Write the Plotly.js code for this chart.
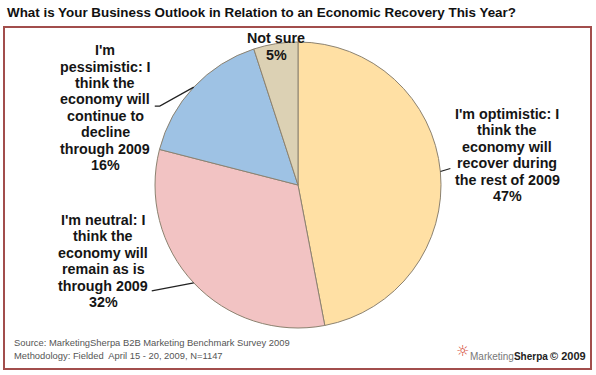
<!DOCTYPE html>
<html>
<head>
<meta charset="utf-8">
<script src="https://cdn.plot.ly/plotly-3.0.1.min.js"></script>
<style>html,body{margin:0;padding:0;background:#fff;}#chart{width:596px;height:375px;}</style>
</head>
<body>
<div id="chart"></div>
<script>
var chartTitle = "What is Your Business Outlook in Relation to an Economic Recovery This Year?";
var categories = [
  "I'm optimistic: I<br>think the<br>economy will<br>recover during<br>the rest of 2009",
  "I'm neutral: I<br>think the<br>economy will<br>remain as is<br>through 2009",
  "I'm<br>pessimistic: I<br>think the<br>economy will<br>continue to<br>decline<br>through 2009",
  "Not sure"
];
var values = [47, 32, 16, 5];
var colors = ["#FFE0A4", "#F2C3C3", "#9EC2E4", "#DCD1B4"];
var sourceLines = [
  "Source: MarketingSherpa B2B Marketing Benchmark Survey 2009",
  "Methodology: Fielded  April 15 - 20, 2009, N=1147"
];

var W = 596, H = 375;
var cx = 298, cy = 185, R = 143;
function px(x){ return x / W; }
function py(y){ return 1 - y / H; }

var trace = {
  type: "pie",
  values: values,
  labels: categories,
  sort: false,
  direction: "clockwise",
  rotation: 0,
  textinfo: "none",
  hoverinfo: "none",
  showlegend: false,
  marker: { colors: colors, line: { color: "#8C8270", width: 1 } },
  domain: { x: [px(cx - R), px(cx + R)], y: [py(cy + R), py(cy - R)] }
};

// label block centres and line spacing (layout only)
var labelPos = [
  { x: 507, y: 155, lh: 16.4 },
  { x: 103, y: 261, lh: 16.4 },
  { x: 105, y: 107.5, lh: 16.4 },
  { x: 276, y: 46.5, lh: 17 }
];
// leader line routes: pixel offsets from the slice's mid-edge point
var leaderPaths = [
  [[10, -3]],
  [[-42, 8]],
  [[-34, 19], [-39, 19]],
  null
];

var total = values.reduce(function(a, b){ return a + b; }, 0);
var annotations = [];
var shapes = [];
var cum = 0;
values.forEach(function(v, i){
  var mid = (cum + v / 2) / total * 2 * Math.PI;
  cum += v;
  var ex = cx + R * Math.sin(mid), ey = cy - R * Math.cos(mid);
  var lines = categories[i].split("<br>").concat([v + "%"]);
  var p = labelPos[i];
  var y0 = p.y - (lines.length - 1) * p.lh / 2;
  lines.forEach(function(t, k){
    annotations.push({
      xref: "paper", yref: "paper",
      x: px(p.x), y: py(y0 + k * p.lh),
      xanchor: "center", yanchor: "middle", align: "center",
      showarrow: false,
      text: "<b>" + t + "</b>",
      font: { family: "Liberation Sans, Arial, sans-serif", size: 14.3, color: "#151515" }
    });
  });
  if (leaderPaths[i]) {
    var d = "M" + px(ex) + "," + py(ey);
    leaderPaths[i].forEach(function(o){ d += " L" + px(ex + o[0]) + "," + py(ey + o[1]); });
    shapes.push({ type: "path", xref: "paper", yref: "paper", path: d,
      line: { color: "#222", width: 1.2 } });
  }
});

// frame
shapes.push({ type: "rect", xref: "paper", yref: "paper",
  x0: px(4), x1: px(591), y0: py(369), y1: py(27),
  line: { color: "#A24E4C", width: 2 }, fillcolor: "rgba(0,0,0,0)", layer: "below" });

// title
annotations.push({ xref: "paper", yref: "paper", x: px(5), y: py(12),
  xanchor: "left", yanchor: "middle", showarrow: false,
  text: "<b>" + chartTitle + "</b>",
  font: { family: "Liberation Sans, Arial, sans-serif", size: 13.4, color: "#111" } });

// source
sourceLines.forEach(function(s, i){
  annotations.push({ xref: "paper", yref: "paper", x: px(12), y: py(342 + i * 13),
    xanchor: "left", yanchor: "middle", showarrow: false, text: s,
    font: { family: "Liberation Sans, Arial, sans-serif", size: 9.4, color: "#555" } });
});

// logo
annotations.push({ xref: "paper", yref: "paper", x: px(462), y: py(351),
  xanchor: "center", yanchor: "middle", showarrow: false, text: "☼",
  font: { family: "DejaVu Sans", size: 15, color: "#D2452C" } });
annotations.push({ xref: "paper", yref: "paper", x: px(468), y: py(356),
  xanchor: "left", yanchor: "middle", showarrow: false,
  text: "<span style='color:#777'>Marketing</span><b>Sherpa</b>",
  font: { family: "Liberation Sans, Arial, sans-serif", size: 10, color: "#222" } });
annotations.push({ xref: "paper", yref: "paper", x: px(588), y: py(356),
  xanchor: "right", yanchor: "middle", showarrow: false,
  text: "<b>© 2009</b>",
  font: { family: "Liberation Sans, Arial, sans-serif", size: 11, color: "#222" } });

var layout = {
  width: W, height: H,
  margin: { l: 0, r: 0, t: 0, b: 0 },
  paper_bgcolor: "#fff",
  annotations: annotations,
  shapes: shapes
};
Plotly.newPlot("chart", [trace], layout, { displayModeBar: false, staticPlot: true });
</script>
</body>
</html>
